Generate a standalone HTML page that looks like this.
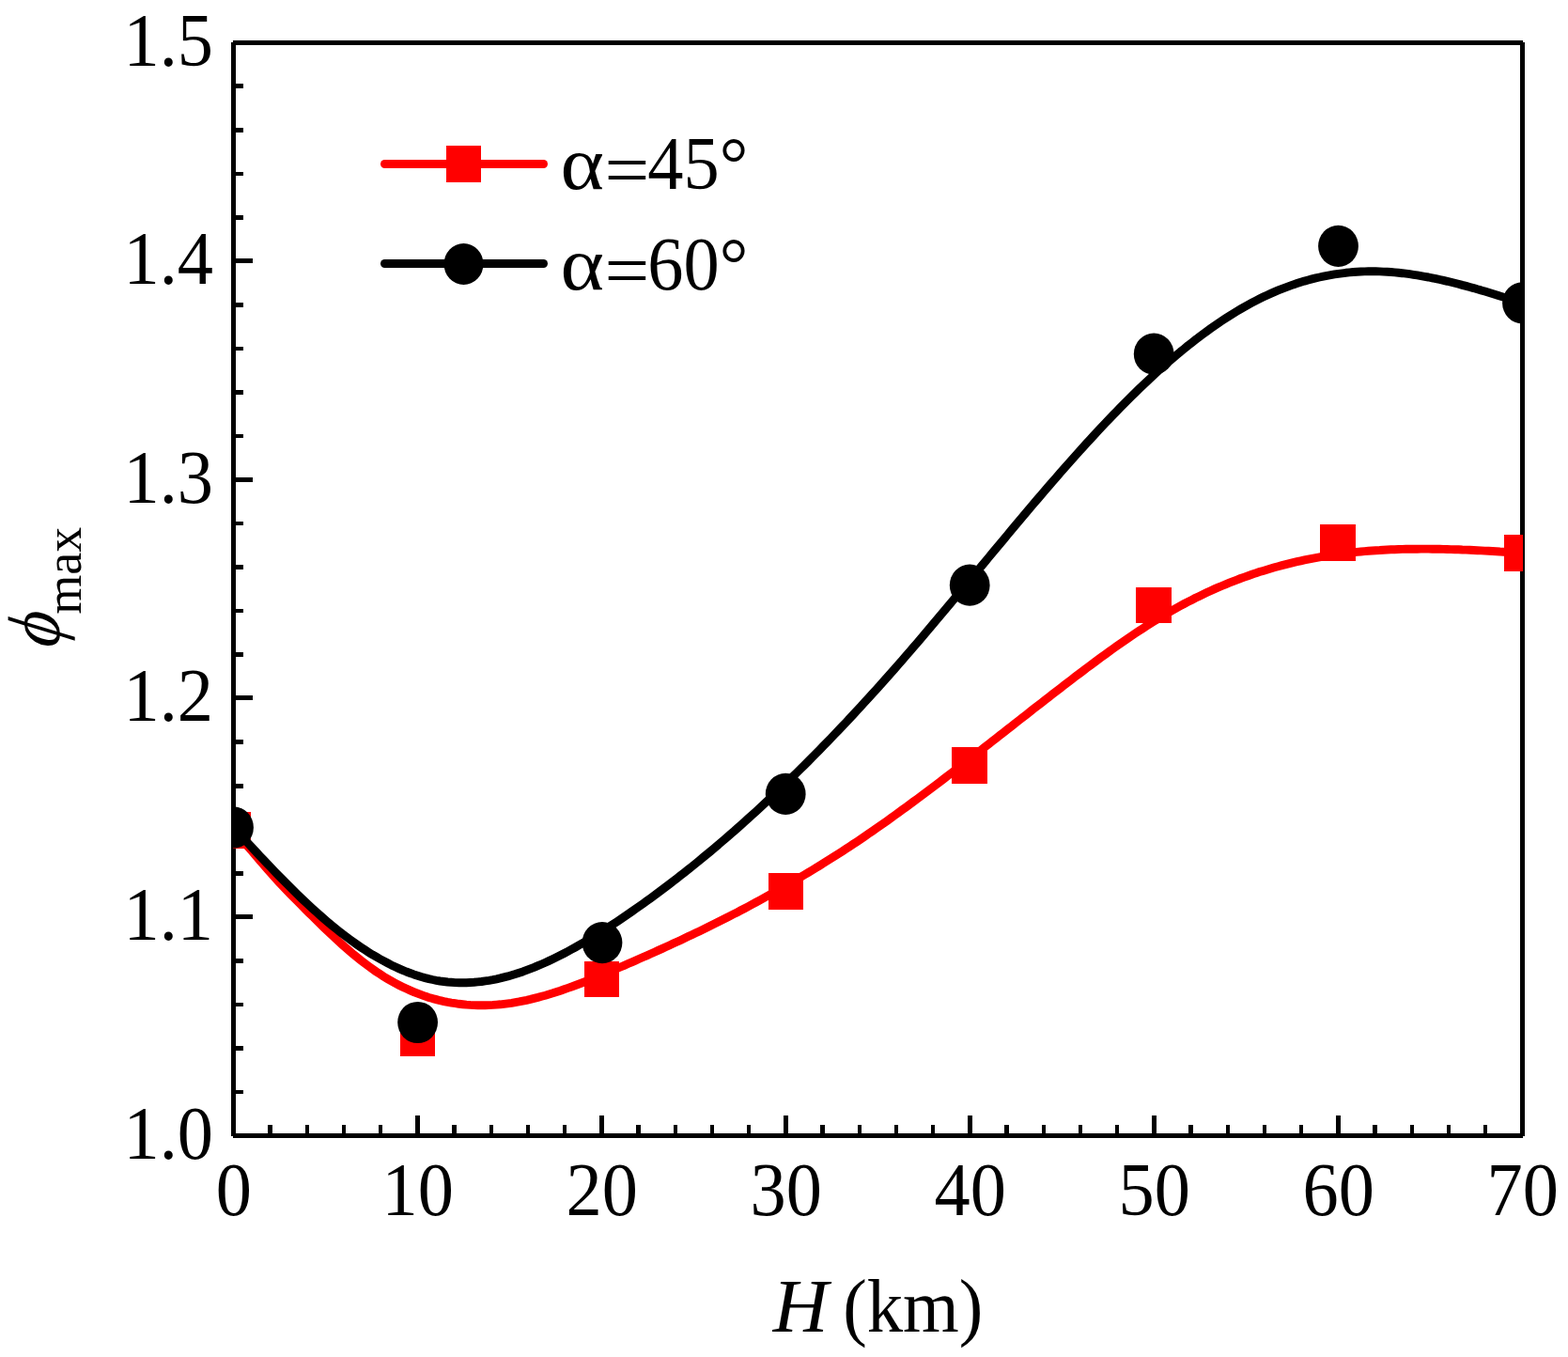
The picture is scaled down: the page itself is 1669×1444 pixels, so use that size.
<!DOCTYPE html>
<html lang="en"><head><meta charset="utf-8"><title>phi max versus H</title>
<style>html,body{margin:0;padding:0;background:#fff}svg{display:block;font-family:"Liberation Serif","DejaVu Serif",serif;font-size:80px;fill:#000}.it{font-style:italic}</style></head><body>
<svg width="1669" height="1444" viewBox="0 0 1669 1444">
<rect width="1669" height="1444" fill="#fff"/>
<defs><clipPath id="pa"><rect x="248" y="45" width="1373" height="1164"/></clipPath></defs>
<g fill="#000" shape-rendering="crispEdges">
<rect x="246" y="45" width="5" height="1164"/>
<rect x="1618" y="45" width="5" height="1164"/>
<rect x="248" y="43" width="1373" height="5"/>
<rect x="248" y="1206" width="1373" height="5"/>
<rect x="251" y="89" width="8" height="5"/>
<rect x="251" y="136" width="8" height="5"/>
<rect x="251" y="183" width="8" height="4"/>
<rect x="251" y="229" width="8" height="5"/>
<rect x="251" y="275" width="18" height="5"/>
<rect x="251" y="322" width="8" height="5"/>
<rect x="251" y="369" width="8" height="4"/>
<rect x="251" y="415" width="8" height="5"/>
<rect x="251" y="462" width="8" height="4"/>
<rect x="251" y="508" width="18" height="5"/>
<rect x="251" y="555" width="8" height="4"/>
<rect x="251" y="601" width="8" height="5"/>
<rect x="251" y="648" width="8" height="4"/>
<rect x="251" y="694" width="8" height="5"/>
<rect x="251" y="740" width="18" height="5"/>
<rect x="251" y="787" width="8" height="5"/>
<rect x="251" y="834" width="8" height="5"/>
<rect x="251" y="880" width="8" height="5"/>
<rect x="251" y="927" width="8" height="5"/>
<rect x="251" y="973" width="18" height="5"/>
<rect x="251" y="1020" width="8" height="5"/>
<rect x="251" y="1067" width="8" height="4"/>
<rect x="251" y="1113" width="8" height="5"/>
<rect x="251" y="1160" width="8" height="4"/>
<rect x="285" y="1197" width="5" height="9"/>
<rect x="325" y="1197" width="4" height="9"/>
<rect x="364" y="1197" width="4" height="9"/>
<rect x="403" y="1197" width="4" height="9"/>
<rect x="442" y="1187" width="5" height="19"/>
<rect x="481" y="1197" width="5" height="9"/>
<rect x="521" y="1197" width="4" height="9"/>
<rect x="560" y="1197" width="4" height="9"/>
<rect x="599" y="1197" width="4" height="9"/>
<rect x="638" y="1187" width="5" height="19"/>
<rect x="677" y="1197" width="5" height="9"/>
<rect x="717" y="1197" width="4" height="9"/>
<rect x="756" y="1197" width="4" height="9"/>
<rect x="795" y="1197" width="4" height="9"/>
<rect x="834" y="1187" width="5" height="19"/>
<rect x="873" y="1197" width="5" height="9"/>
<rect x="913" y="1197" width="4" height="9"/>
<rect x="952" y="1197" width="4" height="9"/>
<rect x="991" y="1197" width="4" height="9"/>
<rect x="1030" y="1187" width="5" height="19"/>
<rect x="1069" y="1197" width="5" height="9"/>
<rect x="1109" y="1197" width="4" height="9"/>
<rect x="1148" y="1197" width="4" height="9"/>
<rect x="1187" y="1197" width="4" height="9"/>
<rect x="1226" y="1187" width="5" height="19"/>
<rect x="1265" y="1197" width="5" height="9"/>
<rect x="1305" y="1197" width="4" height="9"/>
<rect x="1344" y="1197" width="4" height="9"/>
<rect x="1383" y="1197" width="4" height="9"/>
<rect x="1422" y="1187" width="5" height="19"/>
<rect x="1461" y="1197" width="5" height="9"/>
<rect x="1501" y="1197" width="4" height="9"/>
<rect x="1540" y="1197" width="4" height="9"/>
<rect x="1579" y="1197" width="4" height="9"/>
</g>
<g clip-path="url(#pa)">
<path d="M248.5 883.5 L252.5 887.9 L256.5 892.4 L260.5 897.0 L264.5 901.6 L268.5 906.2 L272.5 910.9 L276.5 915.5 L280.5 920.2 L284.5 924.8 L288.5 929.3 L292.5 933.8 L296.5 938.2 L300.5 942.5 L304.5 946.7 L308.5 950.8 L312.5 954.9 L316.5 958.9 L320.5 963.0 L324.5 967.0 L328.5 971.0 L332.5 974.9 L336.5 978.9 L340.5 982.8 L344.5 986.7 L348.5 990.5 L352.5 994.3 L356.5 998.1 L360.5 1001.8 L364.5 1005.4 L368.5 1008.9 L372.5 1012.4 L376.5 1015.8 L380.5 1019.0 L384.5 1022.2 L388.5 1025.3 L392.5 1028.3 L396.5 1031.2 L400.5 1034.0 L404.5 1036.6 L408.5 1039.2 L412.5 1041.6 L416.5 1043.9 L420.5 1046.1 L424.5 1048.2 L428.5 1050.2 L432.5 1052.1 L436.5 1053.9 L440.5 1055.6 L444.5 1057.2 L448.5 1058.7 L452.5 1060.1 L456.5 1061.4 L460.5 1062.6 L464.5 1063.6 L468.5 1064.7 L472.5 1065.6 L476.5 1066.4 L480.5 1067.1 L484.5 1067.7 L488.5 1068.3 L492.5 1068.7 L496.5 1069.1 L500.5 1069.4 L504.5 1069.6 L508.5 1069.7 L512.5 1069.8 L516.5 1069.7 L520.5 1069.6 L524.5 1069.4 L528.5 1069.1 L532.5 1068.8 L536.5 1068.3 L540.5 1067.8 L544.5 1067.3 L548.5 1066.6 L552.5 1065.9 L556.5 1065.1 L560.5 1064.3 L564.5 1063.4 L568.5 1062.4 L572.5 1061.4 L576.5 1060.3 L580.5 1059.2 L584.5 1058.0 L588.5 1056.8 L592.5 1055.5 L596.5 1054.2 L600.5 1052.8 L604.5 1051.4 L608.5 1050.0 L612.5 1048.5 L616.5 1047.0 L620.5 1045.5 L624.5 1043.9 L628.5 1042.3 L632.5 1040.7 L636.5 1039.1 L640.5 1037.5 L644.5 1035.8 L648.5 1034.1 L652.5 1032.4 L656.5 1030.7 L660.5 1029.0 L664.5 1027.3 L668.5 1025.5 L672.5 1023.8 L676.5 1022.1 L680.5 1020.3 L684.5 1018.5 L688.5 1016.8 L692.5 1015.0 L696.5 1013.2 L700.5 1011.4 L704.5 1009.6 L708.5 1007.8 L712.5 1006.0 L716.5 1004.1 L720.5 1002.3 L724.5 1000.4 L728.5 998.5 L732.5 996.6 L736.5 994.7 L740.5 992.8 L744.5 990.9 L748.5 989.0 L752.5 987.0 L756.5 985.0 L760.5 983.1 L764.5 981.1 L768.5 979.1 L772.5 977.0 L776.5 975.0 L780.5 972.9 L784.5 970.9 L788.5 968.8 L792.5 966.7 L796.5 964.6 L800.5 962.4 L804.5 960.3 L808.5 958.1 L812.5 955.9 L816.5 953.7 L820.5 951.5 L824.5 949.3 L828.5 947.0 L832.5 944.8 L836.5 942.5 L840.5 940.2 L844.5 937.9 L848.5 935.5 L852.5 933.2 L856.5 930.8 L860.5 928.4 L864.5 926.0 L868.5 923.5 L872.5 921.1 L876.5 918.6 L880.5 916.1 L884.5 913.6 L888.5 911.0 L892.5 908.5 L896.5 905.9 L900.5 903.3 L904.5 900.7 L908.5 898.0 L912.5 895.4 L916.5 892.7 L920.5 890.0 L924.5 887.2 L928.5 884.5 L932.5 881.7 L936.5 878.9 L940.5 876.1 L944.5 873.3 L948.5 870.4 L952.5 867.5 L956.5 864.6 L960.5 861.7 L964.5 858.8 L968.5 855.9 L972.5 852.9 L976.5 850.0 L980.5 847.0 L984.5 844.0 L988.5 841.0 L992.5 838.0 L996.5 835.0 L1000.5 831.9 L1004.5 828.9 L1008.5 825.8 L1012.5 822.8 L1016.5 819.7 L1020.5 816.6 L1024.5 813.5 L1028.5 810.4 L1032.5 807.3 L1036.5 804.2 L1040.5 801.1 L1044.5 798.0 L1048.5 794.8 L1052.5 791.7 L1056.5 788.6 L1060.5 785.5 L1064.5 782.3 L1068.5 779.2 L1072.5 776.0 L1076.5 772.9 L1080.5 769.8 L1084.5 766.6 L1088.5 763.5 L1092.5 760.4 L1096.5 757.2 L1100.5 754.1 L1104.5 751.0 L1108.5 747.9 L1112.5 744.8 L1116.5 741.7 L1120.5 738.6 L1124.5 735.5 L1128.5 732.4 L1132.5 729.3 L1136.5 726.2 L1140.5 723.2 L1144.5 720.1 L1148.5 717.1 L1152.5 714.1 L1156.5 711.0 L1160.5 708.1 L1164.5 705.1 L1168.5 702.1 L1172.5 699.2 L1176.5 696.3 L1180.5 693.4 L1184.5 690.5 L1188.5 687.7 L1192.5 684.9 L1196.5 682.1 L1200.5 679.3 L1204.5 676.6 L1208.5 673.9 L1212.5 671.3 L1216.5 668.7 L1220.5 666.1 L1224.5 663.5 L1228.5 661.0 L1232.5 658.6 L1236.5 656.1 L1240.5 653.7 L1244.5 651.4 L1248.5 649.1 L1252.5 646.9 L1256.5 644.7 L1260.5 642.5 L1264.5 640.4 L1268.5 638.4 L1272.5 636.3 L1276.5 634.4 L1280.5 632.5 L1284.5 630.6 L1288.5 628.7 L1292.5 626.9 L1296.5 625.2 L1300.5 623.5 L1304.5 621.8 L1308.5 620.2 L1312.5 618.6 L1316.5 617.1 L1320.5 615.5 L1324.5 614.1 L1328.5 612.7 L1332.5 611.3 L1336.5 609.9 L1340.5 608.6 L1344.5 607.4 L1348.5 606.2 L1352.5 605.0 L1356.5 603.8 L1360.5 602.7 L1364.5 601.6 L1368.5 600.6 L1372.5 599.6 L1376.5 598.6 L1380.5 597.7 L1384.5 596.8 L1388.5 595.9 L1392.5 595.1 L1396.5 594.3 L1400.5 593.6 L1404.5 592.9 L1408.5 592.2 L1412.5 591.5 L1416.5 590.9 L1420.5 590.3 L1424.5 589.7 L1428.5 589.2 L1432.5 588.7 L1436.5 588.2 L1440.5 587.8 L1444.5 587.4 L1448.5 587.0 L1452.5 586.6 L1456.5 586.3 L1460.5 586.0 L1464.5 585.7 L1468.5 585.5 L1472.5 585.2 L1476.5 585.0 L1480.5 584.8 L1484.5 584.7 L1488.5 584.5 L1492.5 584.4 L1496.5 584.3 L1500.5 584.3 L1504.5 584.2 L1508.5 584.2 L1512.5 584.1 L1516.5 584.1 L1520.5 584.1 L1524.5 584.2 L1528.5 584.2 L1532.5 584.3 L1536.5 584.4 L1540.5 584.5 L1544.5 584.6 L1548.5 584.7 L1552.5 584.8 L1556.5 585.0 L1560.5 585.1 L1564.5 585.3 L1568.5 585.5 L1572.5 585.7 L1576.5 585.9 L1580.5 586.1 L1584.5 586.3 L1588.5 586.5 L1592.5 586.7 L1596.5 587.0 L1600.5 587.2 L1604.5 587.5 L1608.5 587.7 L1612.5 588.0 L1616.5 588.2 L1620.5 588.5" fill="none" stroke="#f00" stroke-width="8.9" stroke-linejoin="round" stroke-linecap="round"/>
<rect x="230" y="864" width="37" height="39" fill="#f00"/>
<rect x="426" y="1085" width="37" height="39" fill="#f00"/>
<rect x="622" y="1023" width="37" height="38" fill="#f00"/>
<rect x="818" y="929" width="37" height="39" fill="#f00"/>
<rect x="1013" y="795" width="38" height="39" fill="#f00"/>
<rect x="1209" y="625" width="38" height="38" fill="#f00"/>
<rect x="1405" y="558" width="38" height="39" fill="#f00"/>
<rect x="1601" y="569" width="38" height="39" fill="#f00"/>
<path d="M248.5 880.5 L252.5 884.8 L256.5 889.2 L260.5 893.5 L264.5 897.8 L268.5 902.1 L272.5 906.4 L276.5 910.7 L280.5 914.9 L284.5 919.1 L288.5 923.3 L292.5 927.5 L296.5 931.6 L300.5 935.7 L304.5 939.7 L308.5 943.7 L312.5 947.7 L316.5 951.6 L320.5 955.5 L324.5 959.3 L328.5 963.0 L332.5 966.7 L336.5 970.3 L340.5 973.9 L344.5 977.4 L348.5 980.8 L352.5 984.2 L356.5 987.4 L360.5 990.6 L364.5 993.8 L368.5 996.8 L372.5 999.8 L376.5 1002.7 L380.5 1005.5 L384.5 1008.2 L388.5 1010.8 L392.5 1013.4 L396.5 1015.9 L400.5 1018.2 L404.5 1020.5 L408.5 1022.7 L412.5 1024.8 L416.5 1026.9 L420.5 1028.8 L424.5 1030.6 L428.5 1032.3 L432.5 1034.0 L436.5 1035.5 L440.5 1036.9 L444.5 1038.2 L448.5 1039.5 L452.5 1040.6 L456.5 1041.6 L460.5 1042.5 L464.5 1043.3 L468.5 1044.0 L472.5 1044.5 L476.5 1045.0 L480.5 1045.3 L484.5 1045.6 L488.5 1045.7 L492.5 1045.8 L496.5 1045.7 L500.5 1045.5 L504.5 1045.3 L508.5 1044.9 L512.5 1044.5 L516.5 1043.9 L520.5 1043.3 L524.5 1042.6 L528.5 1041.8 L532.5 1040.9 L536.5 1039.9 L540.5 1038.9 L544.5 1037.7 L548.5 1036.5 L552.5 1035.2 L556.5 1033.9 L560.5 1032.4 L564.5 1030.9 L568.5 1029.4 L572.5 1027.7 L576.5 1026.0 L580.5 1024.2 L584.5 1022.4 L588.5 1020.5 L592.5 1018.6 L596.5 1016.6 L600.5 1014.5 L604.5 1012.4 L608.5 1010.2 L612.5 1008.0 L616.5 1005.7 L620.5 1003.4 L624.5 1001.1 L628.5 998.7 L632.5 996.2 L636.5 993.8 L640.5 991.3 L644.5 988.7 L648.5 986.1 L652.5 983.5 L656.5 980.9 L660.5 978.2 L664.5 975.5 L668.5 972.8 L672.5 970.0 L676.5 967.2 L680.5 964.4 L684.5 961.6 L688.5 958.7 L692.5 955.8 L696.5 952.9 L700.5 949.9 L704.5 946.9 L708.5 943.9 L712.5 940.9 L716.5 937.8 L720.5 934.7 L724.5 931.6 L728.5 928.5 L732.5 925.3 L736.5 922.1 L740.5 918.9 L744.5 915.6 L748.5 912.3 L752.5 909.0 L756.5 905.7 L760.5 902.3 L764.5 899.0 L768.5 895.5 L772.5 892.1 L776.5 888.6 L780.5 885.2 L784.5 881.6 L788.5 878.1 L792.5 874.5 L796.5 870.9 L800.5 867.3 L804.5 863.7 L808.5 860.0 L812.5 856.3 L816.5 852.6 L820.5 848.8 L824.5 845.0 L828.5 841.3 L832.5 837.4 L836.5 833.6 L840.5 829.7 L844.5 825.8 L848.5 821.9 L852.5 817.9 L856.5 814.0 L860.5 810.0 L864.5 805.9 L868.5 801.9 L872.5 797.8 L876.5 793.7 L880.5 789.6 L884.5 785.5 L888.5 781.3 L892.5 777.1 L896.5 772.9 L900.5 768.7 L904.5 764.4 L908.5 760.1 L912.5 755.8 L916.5 751.5 L920.5 747.1 L924.5 742.7 L928.5 738.3 L932.5 733.9 L936.5 729.5 L940.5 725.0 L944.5 720.5 L948.5 716.0 L952.5 711.5 L956.5 706.9 L960.5 702.3 L964.5 697.7 L968.5 693.1 L972.5 688.4 L976.5 683.8 L980.5 679.1 L984.5 674.4 L988.5 669.7 L992.5 664.9 L996.5 660.2 L1000.5 655.4 L1004.5 650.7 L1008.5 645.9 L1012.5 641.1 L1016.5 636.3 L1020.5 631.5 L1024.5 626.7 L1028.5 621.9 L1032.5 617.1 L1036.5 612.3 L1040.5 607.5 L1044.5 602.6 L1048.5 597.8 L1052.5 593.0 L1056.5 588.2 L1060.5 583.4 L1064.5 578.6 L1068.5 573.8 L1072.5 569.0 L1076.5 564.2 L1080.5 559.4 L1084.5 554.6 L1088.5 549.9 L1092.5 545.1 L1096.5 540.4 L1100.5 535.7 L1104.5 531.0 L1108.5 526.3 L1112.5 521.6 L1116.5 517.0 L1120.5 512.4 L1124.5 507.8 L1128.5 503.2 L1132.5 498.6 L1136.5 494.1 L1140.5 489.6 L1144.5 485.1 L1148.5 480.6 L1152.5 476.2 L1156.5 471.8 L1160.5 467.4 L1164.5 463.1 L1168.5 458.8 L1172.5 454.5 L1176.5 450.3 L1180.5 446.1 L1184.5 441.9 L1188.5 437.8 L1192.5 433.7 L1196.5 429.6 L1200.5 425.6 L1204.5 421.6 L1208.5 417.7 L1212.5 413.8 L1216.5 410.0 L1220.5 406.2 L1224.5 402.5 L1228.5 398.8 L1232.5 395.1 L1236.5 391.5 L1240.5 388.0 L1244.5 384.5 L1248.5 381.1 L1252.5 377.7 L1256.5 374.3 L1260.5 371.1 L1264.5 367.8 L1268.5 364.7 L1272.5 361.6 L1276.5 358.5 L1280.5 355.5 L1284.5 352.6 L1288.5 349.7 L1292.5 346.9 L1296.5 344.1 L1300.5 341.4 L1304.5 338.8 L1308.5 336.2 L1312.5 333.7 L1316.5 331.3 L1320.5 328.9 L1324.5 326.6 L1328.5 324.4 L1332.5 322.2 L1336.5 320.1 L1340.5 318.1 L1344.5 316.1 L1348.5 314.2 L1352.5 312.4 L1356.5 310.6 L1360.5 308.9 L1364.5 307.3 L1368.5 305.8 L1372.5 304.3 L1376.5 302.9 L1380.5 301.6 L1384.5 300.3 L1388.5 299.1 L1392.5 298.0 L1396.5 296.9 L1400.5 295.9 L1404.5 295.0 L1408.5 294.1 L1412.5 293.3 L1416.5 292.6 L1420.5 291.9 L1424.5 291.3 L1428.5 290.8 L1432.5 290.3 L1436.5 289.9 L1440.5 289.5 L1444.5 289.2 L1448.5 289.0 L1452.5 288.9 L1456.5 288.8 L1460.5 288.8 L1464.5 288.8 L1468.5 288.9 L1472.5 289.1 L1476.5 289.3 L1480.5 289.5 L1484.5 289.9 L1488.5 290.3 L1492.5 290.7 L1496.5 291.2 L1500.5 291.7 L1504.5 292.3 L1508.5 292.9 L1512.5 293.6 L1516.5 294.3 L1520.5 295.0 L1524.5 295.8 L1528.5 296.6 L1532.5 297.5 L1536.5 298.4 L1540.5 299.3 L1544.5 300.3 L1548.5 301.3 L1552.5 302.3 L1556.5 303.4 L1560.5 304.4 L1564.5 305.5 L1568.5 306.6 L1572.5 307.8 L1576.5 308.9 L1580.5 310.1 L1584.5 311.3 L1588.5 312.5 L1592.5 313.7 L1596.5 315.0 L1600.5 316.2 L1604.5 317.5 L1608.5 318.7 L1612.5 320.0 L1616.5 321.2 L1620.5 322.5" fill="none" stroke="#000" stroke-width="8.9" stroke-linejoin="round" stroke-linecap="round"/>
<ellipse cx="248.5" cy="880.5" rx="21.4" ry="22.1" fill="#000"/>
<ellipse cx="444.6" cy="1088.0" rx="21.4" ry="22.1" fill="#000"/>
<ellipse cx="641.0" cy="1003.1" rx="21.4" ry="22.1" fill="#000"/>
<ellipse cx="836.2" cy="844.9" rx="21.4" ry="22.1" fill="#000"/>
<ellipse cx="1032.2" cy="622.7" rx="21.4" ry="22.1" fill="#000"/>
<ellipse cx="1228.2" cy="376.7" rx="21.4" ry="22.1" fill="#000"/>
<ellipse cx="1424.5" cy="261.9" rx="21.4" ry="22.1" fill="#000"/>
<ellipse cx="1620.5" cy="322.4" rx="21.4" ry="22.1" fill="#000"/>
</g>
<text transform="translate(248.8 1293.0) scale(0.955 1)" text-anchor="middle">0</text>
<text transform="translate(444.8 1293.0) scale(0.955 1)" text-anchor="middle">10</text>
<text transform="translate(640.8 1293.0) scale(0.955 1)" text-anchor="middle">20</text>
<text transform="translate(836.8 1293.0) scale(0.955 1)" text-anchor="middle">30</text>
<text transform="translate(1032.8 1293.0) scale(0.955 1)" text-anchor="middle">40</text>
<text transform="translate(1228.8 1293.0) scale(0.955 1)" text-anchor="middle">50</text>
<text transform="translate(1424.8 1293.0) scale(0.955 1)" text-anchor="middle">60</text>
<text transform="translate(1620.8 1293.0) scale(0.955 1)" text-anchor="middle">70</text>
<text transform="translate(227.0 1232.5) scale(0.955 1)" text-anchor="end">1.0</text>
<text transform="translate(227.0 999.9) scale(0.955 1)" text-anchor="end">1.1</text>
<text transform="translate(227.0 767.4) scale(0.955 1)" text-anchor="end">1.2</text>
<text transform="translate(227.0 534.8) scale(0.955 1)" text-anchor="end">1.3</text>
<text transform="translate(227.0 302.3) scale(0.955 1)" text-anchor="end">1.4</text>
<text transform="translate(227.0 69.8) scale(0.955 1)" text-anchor="end">1.5</text>
<text y="1417"><tspan class="it" x="822.7" textLength="58.8" lengthAdjust="spacingAndGlyphs">H</tspan> <tspan x="897.2" textLength="149.1" lengthAdjust="spacingAndGlyphs">(km)</tspan></text>
<g transform="translate(63.3 689) rotate(-90)"><text class="it" font-size="78.4" transform="translate(-1.5 0) scale(0.93 1) skewX(-8.5)">ϕ</text><text x="35.3" y="22.3" font-size="54">max</text></g>
<g fill="none" stroke-width="9" stroke-linecap="round"><path d="M409.5 174.5H578.5" stroke="#f00"/><path d="M409.5 280.5H578.5" stroke="#000"/></g>
<rect x="475" y="155" width="37" height="39" fill="#f00"/>
<ellipse cx="493.5" cy="281" rx="21" ry="22" fill="#000"/>
<text y="201"><tspan x="596.5" textLength="46.5" lengthAdjust="spacingAndGlyphs">α</tspan><tspan x="643.5" dy="6.7" textLength="47.8" lengthAdjust="spacingAndGlyphs">=</tspan><tspan x="689.3" dy="-6.7" textLength="106.95" lengthAdjust="spacingAndGlyphs">45°</tspan></text>
<text y="308"><tspan x="596.5" textLength="46.5" lengthAdjust="spacingAndGlyphs">α</tspan><tspan x="643.5" dy="6.7" textLength="47.8" lengthAdjust="spacingAndGlyphs">=</tspan><tspan x="689.3" dy="-6.7" textLength="106.95" lengthAdjust="spacingAndGlyphs">60°</tspan></text>
</svg></body></html>
